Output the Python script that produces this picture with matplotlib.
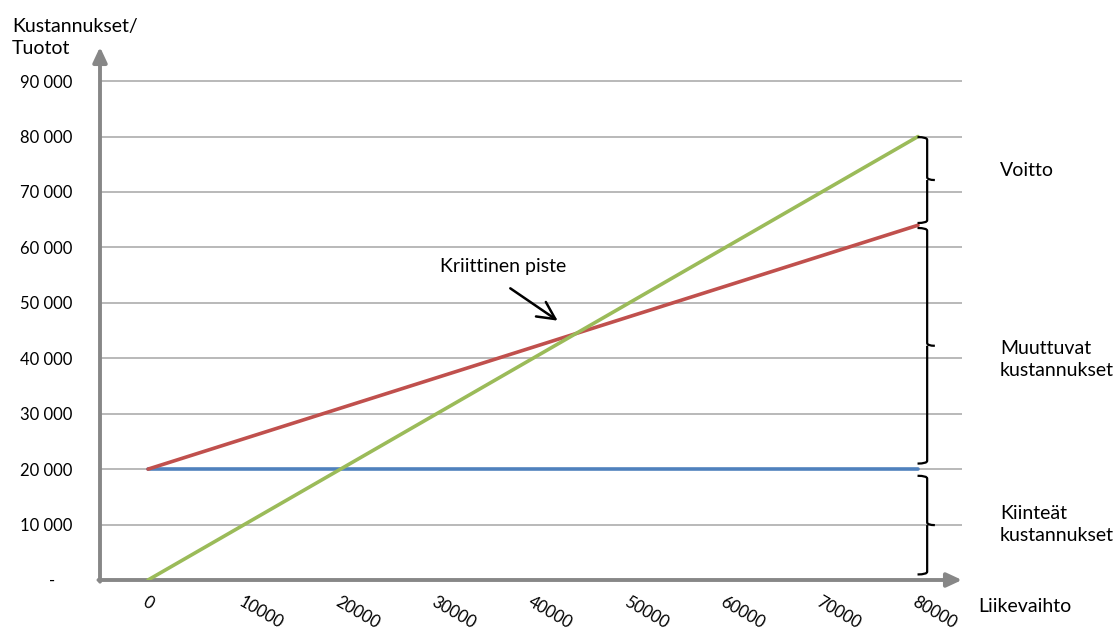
import matplotlib.pyplot as plt
from matplotlib.path import Path
from matplotlib.patches import PathPatch

# Data
liikevaihto = [0, 10000, 20000, 30000, 40000, 50000, 60000, 70000, 80000]
tuotot = [0, 10000, 20000, 30000, 40000, 50000, 60000, 70000, 80000]
kokonaiskustannukset = [20000, 25500, 31000, 36500, 42000, 47500, 53000, 58500, 64000]
kiinteat = [20000, 20000, 20000, 20000, 20000, 20000, 20000, 20000, 20000]
y_ticks = [0, 10000, 20000, 30000, 40000, 50000, 60000, 70000, 80000, 90000]
y_labels = ["-    ", "10 000", "20 000", "30 000", "40 000", "50 000",
            "60 000", "70 000", "80 000", "90 000"]

plt.rcParams['font.family'] = ['Lato', 'DejaVu Sans']

fig = plt.figure(figsize=(11.17, 6.3), dpi=100)
ax = fig.add_axes([100 / 1117, 50 / 630, 862 / 1117, 533 / 630])
ax.set_xlim(-4990, 84570)
ax.set_ylim(0, 96150)

for s in ax.spines.values():
    s.set_visible(False)

# horizontal gridlines
for yv in y_ticks[1:]:
    ax.axhline(yv, color='#a6a6a6', lw=1.1, zorder=1)

# axis arrows
axis_col = '#878787'
arrow_style = '-|>,head_length=0.75,head_width=0.35'
ax.annotate('', xy=(84570, 0), xytext=(-5150, 0), xycoords='data',
            arrowprops=dict(arrowstyle=arrow_style, lw=2.8, color=axis_col,
                            mutation_scale=12, shrinkA=0, shrinkB=0),
            annotation_clip=False, zorder=2)
ax.annotate('', xy=(-4990, 96150), xytext=(-4990, -300), xycoords='data',
            arrowprops=dict(arrowstyle=arrow_style, lw=2.8, color=axis_col,
                            mutation_scale=12, shrinkA=0, shrinkB=0),
            annotation_clip=False, zorder=2)

# lines
ax.plot(liikevaihto, kiinteat, color='#4F81BD', lw=2.6, zorder=3, solid_capstyle='round')
ax.plot(liikevaihto, kokonaiskustannukset, color='#C0504D', lw=2.6, zorder=4, solid_capstyle='round')
ax.plot(liikevaihto, tuotot, color='#9BBB59', lw=2.6, zorder=5, solid_capstyle='round')

# ticks
ax.set_xticks(liikevaihto)
ax.set_xticklabels([str(v) for v in liikevaihto], rotation=-30, ha='left', va='top',
                   rotation_mode='anchor', fontsize=12)
ax.set_yticks(y_ticks)
ax.set_yticklabels(y_labels, fontsize=12)
ax.tick_params(axis='x', length=0, pad=10)
ax.tick_params(axis='y', length=0, pad=20)


def brace(ax, x, y0, y1, w=1000, r=500, tip=800):
    ym = (y0 + y1) / 2
    verts = [(x - w, y1), (x, y1), (x, y1 - r),
             (x, ym + r), (x, ym), (x + tip, ym),
             (x, ym), (x, ym - r),
             (x, y0 + r), (x, y0), (x - w, y0)]
    codes = [Path.MOVETO, Path.CURVE3, Path.CURVE3,
             Path.LINETO, Path.CURVE3, Path.CURVE3,
             Path.MOVETO, Path.LINETO,
             Path.LINETO, Path.CURVE3, Path.CURVE3]
    ax.add_patch(PathPatch(Path(verts, codes), fill=False, lw=1.6,
                           edgecolor='black', clip_on=False, zorder=6))


brace(ax, 80950, 64400, 79900)
brace(ax, 80950, 21000, 63500)
brace(ax, 80950, 1000, 18800)

ax.text(88500, 73800, "Voitto", fontsize=14, va='center', ha='left', clip_on=False)
ax.text(88500, 39700, "Muuttuvat\nkustannukset", fontsize=14, va='center', ha='left',
        linespacing=1.35, clip_on=False)
ax.text(88500, 10000, "Kiinteät\nkustannukset", fontsize=14, va='center', ha='left',
        linespacing=1.35, clip_on=False)

# critical point annotation
ax.text(36900, 56640, "Kriittinen piste", fontsize=14, ha='center', va='center')
ax.annotate('', xy=(42800, 46500), xytext=(37400, 52900),
            arrowprops=dict(arrowstyle='->,head_length=0.9,head_width=0.45',
                            lw=1.8, color='black', mutation_scale=14), zorder=7)

fig.text(12 / 1117, 1 - 18 / 630, "Kustannukset/\nTuotot", fontsize=14, va='top',
         ha='left', linespacing=1.35)
fig.text(978 / 1117, 1 - 606 / 630, "Liikevaihto", fontsize=14, va='center', ha='left')

fig.savefig('out.png', dpi=100)
